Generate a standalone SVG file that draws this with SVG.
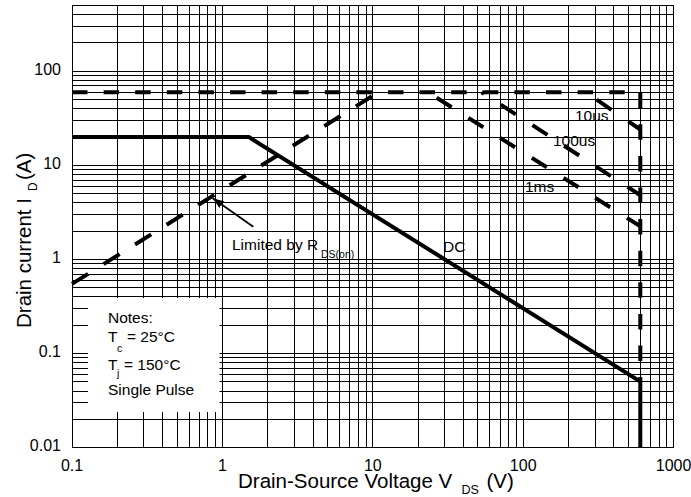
<svg xmlns="http://www.w3.org/2000/svg" width="691" height="497" viewBox="0 0 691 497">
<defs>
<style>
text { font-family: "Liberation Sans", Arial, sans-serif; fill: #000; }
.tick { font-size: 16px; }
.ann { font-size: 15.5px; }
.title { font-size: 20.5px; }
.grid { stroke: #000; stroke-width: 1; fill: none; shape-rendering: crispEdges; }
.solid { stroke: #000; stroke-width: 4; fill: none; }
.dash { stroke: #000; stroke-width: 4; fill: none; }
</style>
<marker id="ah" markerUnits="userSpaceOnUse" markerWidth="12" markerHeight="8" refX="11" refY="4" orient="auto">
<path d="M0,0 L11,4 L0,8 z" fill="#000"/>
</marker>
</defs>
<rect width="691" height="497" fill="#fff"/>
<g id="grid">
<path class="grid" d="M117.5,5.5V447.5 M143.5,5.5V447.5 M162.5,5.5V447.5 M177.5,5.5V447.5 M189.5,5.5V447.5 M199.5,5.5V447.5 M207.5,5.5V447.5 M215.5,5.5V447.5
M222.5,5.5V447.5 M267.5,5.5V447.5 M294.5,5.5V447.5 M313.5,5.5V447.5 M327.5,5.5V447.5 M339.5,5.5V447.5 M349.5,5.5V447.5 M358.5,5.5V447.5 M366.5,5.5V447.5
M372.5,5.5V447.5 M418.5,5.5V447.5 M444.5,5.5V447.5 M463.5,5.5V447.5 M477.5,5.5V447.5 M489.5,5.5V447.5 M500.5,5.5V447.5 M508.5,5.5V447.5 M516.5,5.5V447.5
M523.5,5.5V447.5 M568.5,5.5V447.5 M595.5,5.5V447.5 M613.5,5.5V447.5 M628.5,5.5V447.5 M640.5,5.5V447.5 M650.5,5.5V447.5 M659.5,5.5V447.5 M666.5,5.5V447.5
M72.5,14.5H673.5 M72.5,26.5H673.5 M72.5,42.5H673.5 M72.5,71.5H673.5 M72.5,75.5H673.5 M72.5,80.5H673.5 M72.5,85.5H673.5 M72.5,92.5H673.5 M72.5,99.5H673.5 M72.5,108.5H673.5 M72.5,120.5H673.5 M72.5,137.5H673.5
M72.5,165.5H673.5 M72.5,169.5H673.5 M72.5,174.5H673.5 M72.5,180.5H673.5 M72.5,186.5H673.5 M72.5,193.5H673.5 M72.5,202.5H673.5 M72.5,214.5H673.5 M72.5,231.5H673.5
M72.5,259.5H673.5 M72.5,263.5H673.5 M72.5,268.5H673.5 M72.5,274.5H673.5 M72.5,280.5H673.5 M72.5,287.5H673.5 M72.5,296.5H673.5 M72.5,308.5H673.5 M72.5,325.5H673.5
M72.5,353.5H673.5 M72.5,357.5H673.5 M72.5,362.5H673.5 M72.5,368.5H673.5 M72.5,374.5H673.5 M72.5,381.5H673.5 M72.5,391.5H673.5 M72.5,402.5H673.5 M72.5,419.5H673.5"/>
<rect id="notes-bg" x="88" y="298" width="131.5" height="114" fill="#fff"/>
<rect class="grid" x="72.5" y="5.5" width="601" height="442" stroke="#333"/>
</g>
<g id="connectors">
<path id="dc" class="solid" d="M72,137.1 H248.9 L640.3,381.5 V447.7"/>
<path id="limit-60a" class="dash" d="M72,92.2 H640.3 V381" stroke-dasharray="15.5 16.1"/>
<path id="rdson" class="dash" d="M72,283.9 L378.5,92.2" stroke-dasharray="19 18.2"/>
<path id="pulse-1ms" class="dash" d="M427.8,92.2 L640.3,226.3" stroke-dasharray="17.7 19.8" stroke-dashoffset="27"/>
<path id="pulse-100us" class="dash" d="M481.6,92.2 L640.3,195.2" stroke-dasharray="17.9 19.9" stroke-dashoffset="15"/>
<path id="pulse-10us" class="dash" d="M585.8,92.2 L640.3,129.5" stroke-dasharray="18 20.4" stroke-dashoffset="25.2"/>
<line id="rdson-arrow" x1="253.3" y1="226.7" x2="212.7" y2="198.3" stroke="#000" stroke-width="1.8" marker-end="url(#ah)"/>
</g>
<g id="tick-labels" class="tick">
<text x="61" y="74.5" text-anchor="end">100</text>
<text x="61" y="168.6" text-anchor="end">10</text>
<text x="61" y="262.7" text-anchor="end">1</text>
<text x="61" y="356.8" text-anchor="end">0.1</text>
<text x="61" y="450.9" text-anchor="end">0.01</text>
<text x="72" y="471" text-anchor="middle">0.1</text>
<text x="222.4" y="471" text-anchor="middle">1</text>
<text x="372.8" y="471" text-anchor="middle">10</text>
<text x="523.2" y="471" text-anchor="middle">100</text>
<text x="673.6" y="471" text-anchor="middle">1000</text>
</g>
<g id="axis-titles">
<text class="title" x="238" y="487.5">Drain-Source Voltage V<tspan x="461.5" y="494" font-size="12.5">DS</tspan><tspan x="486.5" y="487.5">(V)</tspan></text>
<text class="title" transform="translate(31,328) rotate(-90)">Drain current I<tspan x="137" dy="6" font-size="12">D</tspan><tspan x="148" dy="-6">(A)</tspan></text>
</g>
<g id="curve-labels" class="ann">
<text x="575" y="120.7">10us</text>
<text x="553" y="146">100us</text>
<text x="525" y="191.7">1ms</text>
<text x="443" y="251.7">DC</text>
<text x="232" y="249.5">Limited by R<tspan x="321" y="258" font-size="10.5">DS(on)</tspan></text>
</g>
<g id="notes" class="ann">
<text x="108" y="323">Notes:</text>
<text x="108" y="342">T<tspan x="117" y="352" font-size="10.5">c</tspan><tspan x="127" y="342">= 25°C</tspan></text>
<text x="108" y="370">T<tspan x="117" y="377" font-size="10.5">j</tspan><tspan x="124" y="370">= 150°C</tspan></text>
<text x="108" y="395">Single Pulse</text>
</g>
</svg>
